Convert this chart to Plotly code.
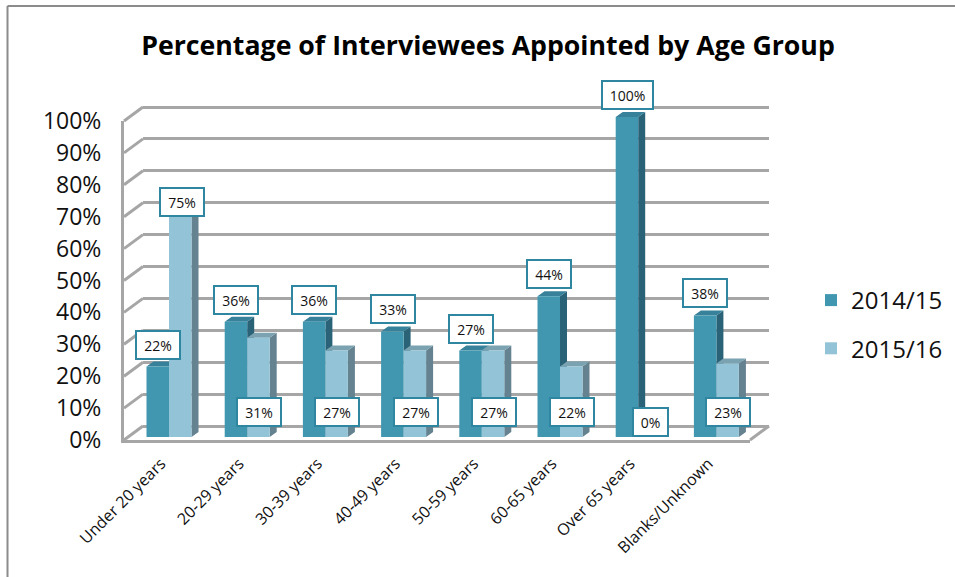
import plotly.graph_objects as go

categories = ["Under 20 years", "20-29 years", "30-39 years", "40-49 years",
              "50-59 years", "60-65 years", "Over 65 years", "Blanks/Unknown"]
series_2014 = [22, 36, 36, 33, 27, 44, 100, 38]
series_2015 = [75, 31, 27, 27, 27, 22, 0, 23]
labels_2014 = ["22%", "36%", "36%", "33%", "27%", "44%", "100%", "38%"]
labels_2015 = ["75%", "31%", "27%", "27%", "27%", "22%", "0%", "23%"]
y_ticks = [0, 10, 20, 30, 40, 50, 60, 70, 80, 90, 100]
y_tick_labels = ["0%", "10%", "20%", "30%", "40%", "50%", "60%", "70%", "80%", "90%", "100%"]

W, H = 955, 577
FONT = "Open Sans"
C1, C1_SIDE, C1_TOP = "#4297B0", "#2A6377", "#37819A"
C2, C2_SIDE, C2_TOP = "#92C3D6", "#64828F", "#7BA2B1"
GRID = "#A6A6A6"
EDGE = "#2F86A0"


def fx(px):
    return px / W


def fy(px):
    return 1 - px / H


# geometry of the pseudo-3D chart box, in pixels
FL, FR, FB, FT = 124, 750, 440, 121      # front plane
DX, DY = 19, 14                          # box depth
BAR_B, BAR_T = 437, 117                  # bars: value 0 and 100
BAND = 78.2
FIRST = 169
x_rng = [(FL - FIRST) / BAND, (FR - FIRST) / BAND]
bar_w = 22.5 / BAND
unit = (BAR_B - BAR_T) / 100             # pixels per percentage point
ddx = 7 / BAND                           # bar depth in category units
ddy = 5 / unit                           # bar depth in value units
TOP_ROOM = 10                            # extra value range so bar tops above 100 are not clipped
wall_unit = (FB - FT) / 100


def faces(values, x_off):
    sx, sy, tx, ty = [], [], [], []
    for i, v in enumerate(values):
        x0, x1 = i + x_off, i + x_off + bar_w
        sx += [x1, x1 + ddx, x1 + ddx, x1, None]
        sy += [0, ddy, v + ddy, v, None]
        tx += [x0, x1, x1 + ddx, x0 + ddx, None]
        ty += [v, v, v + ddy, v + ddy, None]
    return sx, sy, tx, ty


fig = go.Figure()

# back wall (grid only)
fig.add_trace(go.Scatter(x=[None], y=[None], xaxis="x", yaxis="y", showlegend=False, hoverinfo="skip"))
# front plane (tick labels, axis lines)
fig.add_trace(go.Scatter(x=[None], y=[None], xaxis="x2", yaxis="y2", showlegend=False, hoverinfo="skip"))

# depth faces of the bars
for vals, off, side, top in [(series_2014, -bar_w, C1_SIDE, C1_TOP), (series_2015, 0, C2_SIDE, C2_TOP)]:
    sx, sy, tx, ty = faces(vals, off)
    fig.add_trace(go.Scatter(x=sx, y=sy, xaxis="x3", yaxis="y3", mode="lines", fill="toself",
                             fillcolor=side, line=dict(width=0), showlegend=False, hoverinfo="skip"))
    fig.add_trace(go.Scatter(x=tx, y=ty, xaxis="x3", yaxis="y3", mode="lines", fill="toself",
                             fillcolor=top, line=dict(width=0), showlegend=False, hoverinfo="skip"))

# front faces
xs = list(range(len(categories)))
fig.add_trace(go.Bar(x=[i - bar_w / 2 for i in xs], y=series_2014, width=bar_w, name="2014/15",
                     marker=dict(color=C1, line=dict(width=0)), xaxis="x4", yaxis="y4", legendgroup="a"))
fig.add_trace(go.Bar(x=[i + bar_w / 2 for i in xs], y=series_2015, width=bar_w, name="2015/16",
                     marker=dict(color=C2, line=dict(width=0)), xaxis="x4", yaxis="y4", legendgroup="b"))

shapes = []
line = dict(color=GRID, width=3)
for t in y_ticks:
    y = FB - (FB - FT) * t / 100
    shapes.append(dict(type="line", xref="paper", yref="paper", x0=fx(FL), y0=fy(y),
                       x1=fx(FL + DX), y1=fy(y - DY), line=line, layer="below"))
shapes.append(dict(type="line", xref="paper", yref="paper", x0=fx(FR), y0=fy(FB),
                   x1=fx(FR + DX), y1=fy(FB - DY), line=line, layer="below"))
# outer chart border
border = dict(color="#8C8C8C", width=2)
shapes.append(dict(type="line", xref="paper", yref="paper", x0=fx(7.5), y0=fy(6), x1=fx(7.5), y1=0, line=border))
shapes.append(dict(type="line", xref="paper", yref="paper", x0=fx(7.5), y0=fy(6), x1=1, y1=fy(6), line=border))

annotations = []
for i, (v, txt) in enumerate(zip(series_2014, labels_2014)):
    annotations.append(dict(x=i - 11 / BAND, y=v, xref="x4", yref="y4", text=txt, showarrow=False, yshift=22))
for i, (v, txt) in enumerate(zip(series_2015, labels_2015)):
    if v >= 50:
        annotations.append(dict(x=i + 13 / BAND, y=v, xref="x4", yref="y4", text=txt, showarrow=False, yshift=-5))
    else:
        annotations.append(dict(x=i + 12 / BAND, y=0, xref="x4", yref="y4", text=txt, showarrow=False,
                                yshift=25 if v else 15))
for a in annotations:
    box_w = {2: 27, 3: 36, 4: 43}[len(a["text"])]
    a.update(font=dict(family=FONT, size=14, color="#111111"), bgcolor="white", bordercolor=EDGE,
             borderwidth=2, borderpad=3, width=box_w, height=20)

hidden = dict(visible=False, fixedrange=True, automargin=False)
fig.update_layout(
    template="none",
    width=W, height=H, margin=dict(l=0, r=0, t=0, b=0, autoexpand=False),
    paper_bgcolor="white", plot_bgcolor="rgba(0,0,0,0)",
    barmode="overlay", shapes=shapes, annotations=annotations,
    font=dict(family=FONT),
    title=dict(text="<b>Percentage of Interviewees Appointed by Age Group</b>",
               font=dict(family=FONT, size=26.7, color="#000000"),
               x=fx(488), xanchor="center", y=fy(46), yanchor="middle"),
    legend=dict(x=fx(811), y=fy(278), xanchor="left", yanchor="top", font=dict(family=FONT, size=24, color="#111111"),
                tracegroupgap=14, itemwidth=30, bgcolor="rgba(0,0,0,0)"),
    xaxis=dict(domain=[fx(FL + DX), fx(FR + DX)], range=x_rng, **hidden),
    yaxis=dict(domain=[fy(FB - DY + 2 * wall_unit), fy(FT - DY - 2 * wall_unit)], range=[-2, 102], tickvals=y_ticks,
               showgrid=True, gridcolor=GRID, gridwidth=3, zeroline=False, showline=False, showticklabels=False,
               ticks="", fixedrange=True, automargin=False),
    xaxis2=dict(domain=[fx(FL), fx(FR)], range=x_rng, tickvals=xs, ticktext=categories,
                tickangle=-45, tickfont=dict(family=FONT, size=16, color="#111111"), showgrid=False,
                zeroline=False, showline=True, linecolor=GRID, linewidth=3, ticks="", ticklen=0, fixedrange=True,
                anchor="y2", automargin=False, ticklabelshift=-8, ticklabelstandoff=5),
    yaxis2=dict(domain=[fy(FB), fy(FT)], range=[0, 100], tickvals=y_ticks, ticktext=y_tick_labels,
                tickfont=dict(family=FONT, size=23, color="#111111"), showgrid=False, zeroline=False,
                showline=True, linecolor=GRID, linewidth=3, ticks="outside", ticklen=15, tickcolor="rgba(0,0,0,0)",
                fixedrange=True, anchor="x2", automargin=False),
    xaxis3=dict(domain=[fx(FL), fx(FR)], range=x_rng, anchor="y3", **hidden),
    yaxis3=dict(domain=[fy(BAR_B), fy(BAR_T - TOP_ROOM * unit)], range=[0, 100 + TOP_ROOM], anchor="x3", **hidden),
    xaxis4=dict(domain=[fx(FL), fx(FR)], range=x_rng, anchor="y4", **hidden),
    yaxis4=dict(domain=[fy(BAR_B), fy(BAR_T - TOP_ROOM * unit)], range=[0, 100 + TOP_ROOM], anchor="x4", **hidden),
)

fig.write_html("out.html", config=dict(displayModeBar=False),
               post_script="document.body.style.margin='0';document.body.style.overflow='hidden';")
